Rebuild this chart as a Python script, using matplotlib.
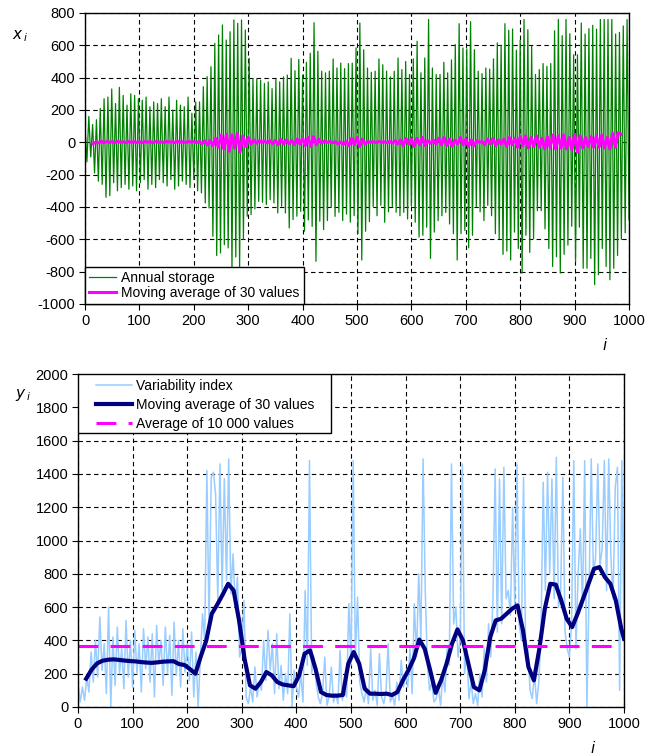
import matplotlib
matplotlib.use("Agg")
import matplotlib.pyplot as plt
from matplotlib.patches import Rectangle
import numpy as np

plt.rcParams['font.family'] = ['Liberation Sans', 'DejaVu Sans']
plt.rcParams['axes.unicode_minus'] = False

# --- top panel: annual storage, peaks and troughs (~every 7 years)
storage_peaks = [
    100, 160, 110, 140, 210, 270, 280, 330, 240, 340,
    290, 230, 300, 290, 270, 260, 280, 220, 250, 240,
    270, 220, 280, 200, 260, 230, 220, 280, 180, 250,
    250, 344, 406, 468, 612, 664, 726, 633, 684, 757,
    736, 757, 695, 520, 395, 391, 384, 364, 374, 332,
    391, 374, 405, 416, 520, 443, 513, 416, 495, 551,
    740, 563, 440, 430, 440, 516, 460, 490, 456, 487,
    490, 584, 738, 573, 460, 433, 440, 516, 480, 440,
    405, 440, 522, 450, 500, 420, 516, 625, 430, 522,
    760, 460, 420, 420, 495, 430, 510, 605, 734, 584,
    578, 746, 573, 440, 425, 460, 453, 516, 615, 600,
    734, 693, 701, 570, 631, 760, 697, 594, 420, 450,
    487, 470, 487, 690, 760, 660, 760, 672, 542, 542,
    738, 670, 703, 724, 700, 760, 760, 760, 760, 670,
    680, 720, 760,
]
storage_troughs = [
    -120, -90, -190, -240, -260, -340, -330, -250, -300, -280,
    -260, -290, -270, -300, -250, -230, -290, -260, -280, -230,
    -250, -270, -230, -290, -270, -240, -260, -280, -230, -300,
    -313, -375, -406, -581, -700, -684, -633, -653, -787, -709,
    -787, -600, -457, -447, -412, -365, -371, -385, -355, -375,
    -437, -395, -437, -530, -478, -457, -427, -550, -480, -520,
    -736, -488, -540, -484, -403, -458, -433, -484, -444, -494,
    -454, -565, -728, -550, -490, -397, -454, -389, -494, -430,
    -397, -433, -454, -433, -474, -393, -494, -586, -575, -525,
    -718, -555, -484, -454, -433, -505, -565, -728, -565, -545,
    -653, -575, -397, -430, -484, -389, -454, -565, -596, -693,
    -673, -728, -555, -657, -809, -575, -681, -596, -423, -423,
    -535, -657, -768, -708, -809, -693, -636, -519, -738, -525,
    -779, -779, -718, -880, -819, -657, -768, -850, -779, -700,
    -600, -560, -480,
]

# moving average of 30 values (top), every 5 years from i=15 to 985
storage_ma = [
    -8, 2, -4, 6, -2, 5, 0, 4, -3, 6, 1, 3, -2, 5, 0, 4, -1,
    3, -2, 5, 1, 4, -3, 6, 0, 3, -1, 5, 2, 4, -2, 6, 1, 3, -1, 5, 2,
    4, -2, 6, -8, 10, -15, 12, -20, 25, -30, 45, -40, 50, -55, 45, -35, 55, -60, 40, -25,
    30, -10, 15, -5, 10, 0, 8, -4, 10, -8, 12, -15, 20, -10, 15, -8, 12, -14, 20, -10,
    25, -20, 30, -25, 35, -15, 20, -5, 8, 0, 5, -3, 4, -10, 2, -12, 5, -20, 25, -15,
    30, -25, 20, -10, 6, 0, 4, -2, 5, 0, 3, -3, 6, -5, 10, -10, 15, -20, 25, -12,
    20, -25, 25, -15, 30, -20, 10, -5, 15, -10, 25, -15, 30, -20, 20, -25, 15, -10, 30, -15,
    20, -25, 15, -20, 10, 0, 5, -15, 20, -10, 25, -20, 15, -10, 20, -25, 30, -15, 25, -30,
    35, -20, 40, -35, 30, -25, 40, -30, 25, -40, 35, -30, 45, -40, 40, -35, 45, -40, 30, -45,
    50, -60, 40, -35, 30, -25, 35, -30, 40, -30, 45, -35, 30, -40, 55, -30, 60, 50,
]

# --- bottom panel: variability index, every 4 years (0..1000)
variability = [
    140, 30, 120, 40, 180, 90, 330, 150, 400, 180, 540, 220, 380, 80, 600, 0, 420, 130, 480, 200, 350, 110, 520, 180, 400,
    120, 460, 200, 380, 90, 470, 230, 420, 150, 440, 60, 490, 260, 400, 130, 480, 200, 430, 70, 510, 190, 400, 120, 470, 210,
    380, 160, 450, 60, 330, 0, 280, 560, 400, 1420, 500, 1380, 1410, 1280, 640, 1460, 700, 1370, 760, 1490, 680, 920, 600, 780, 300,
    350, 640, 60, 20, 120, 30, 240, 60, 150, 100, 400, 160, 460, 220, 380, 80, 440, 110, 250, 40, 200, 80, 560, 0, 220,
    120, 60, 200, 30, 700, 250, 1480, 200, 300, 150, 60, 20, 90, 300, 10, 60, 240, 30, 80, 20, 340, 40, 100, 60, 620,
    250, 1480, 300, 660, 150, 80, 30, 120, 20, 350, 40, 100, 10, 320, 60, 20, 90, 380, 30, 70, 10, 150, 40, 280, 120,
    200, 120, 350, 80, 620, 300, 800, 400, 1490, 700, 250, 100, 150, 30, 50, 120, 10, 200, 90, 350, 250, 1460, 500, 600, 300,
    400, 1460, 200, 350, 50, 150, 20, 80, 10, 200, 60, 350, 150, 500, 300, 650, 1430, 450, 1370, 500, 1440, 650, 700, 550, 1200,
    600, 1460, 500, 400, 1380, 300, 350, 100, 50, 200, 20, 150, 450, 1350, 700, 1410, 800, 1370, 650, 1500, 600, 700, 1380, 450, 350,
    300, 500, 1480, 350, 800, 1070, 600, 1480, 0, 700, 1490, 800, 900, 1460, 850, 950, 1480, 700, 1490, 900, 650, 1320, 1440, 100, 1480,
    450,
]

# moving average of 30 values (bottom), every 10 years from 15 to 995, then 1000
variability_ma = [
    170, 225, 262, 278, 284, 286, 283, 279, 276, 274,
    270, 267, 265, 268, 272, 274, 275, 258, 252, 228,
    200, 305, 400, 560, 615, 675, 740, 700, 520, 290,
    130, 110, 150, 210, 190, 150, 135, 130, 125, 190,
    320, 340, 230, 90, 72, 68, 68, 72, 260, 330,
    260, 110, 80, 80, 78, 80, 72, 90, 160, 220,
    290, 405, 350, 220, 85, 160, 260, 380, 466, 400,
    260, 120, 100, 220, 420, 520, 530, 560, 590, 610,
    460, 240, 160, 350, 590, 740, 735, 640, 530, 480,
    560, 650, 740, 830, 840, 780, 740, 640, 470, 410,
]
variability_mean = 368

# series positions (index i)
storage = np.ravel(np.column_stack([storage_peaks, storage_troughs]))
storage_i = np.linspace(0, 1000, len(storage))
storage_ma_i = np.arange(15, 986, 5)
var_i = np.arange(0, 1001, 4)
var_ma_i = np.append(np.arange(15, 996, 10), 1000)

fig = plt.figure(figsize=(6.46, 7.55), dpi=100)
W, H = 646, 755
ax1 = fig.add_axes([85 / W, 1 - 304 / H, 544 / W, 291 / H])
ax2 = fig.add_axes([78 / W, 1 - 707 / H, 546 / W, 333 / H])

grid_kw = dict(color='black', linestyle=(0, (4, 3)), linewidth=0.8)

for ax in (ax1, ax2):
    ax.set_xlim(0, 1000)
    ax.set_xticks(np.arange(0, 1001, 100))
    ax.grid(True, **grid_kw)
    ax.set_axisbelow(True)
    ax.tick_params(direction='out', length=4, width=0.8, labelsize=10.5, pad=3)
    for s in ax.spines.values():
        s.set_linewidth(1.0)

# top
ax1.plot(storage_i, storage, color='#008000', lw=0.9, label='Annual storage')
ax1.plot(storage_ma_i, storage_ma, color='#FF00FF', lw=2.2, label='Moving average of 30 values')
ax1.set_ylim(-1000, 800)
ax1.set_yticks(np.arange(-1000, 801, 200))
leg1 = ax1.legend(loc='lower left', borderaxespad=0, fontsize=10, handlelength=1.9,
                  labelspacing=0.05, handletextpad=0.4, borderpad=0.3, fancybox=False,
                  framealpha=1, edgecolor='black')
leg1.get_frame().set_linewidth(1.0)
fig.text(12 / W, 1 - 36 / H, r'$x_{\,i}$', fontsize=11, va='center', ha='left')
fig.text(605 / W, 1 - 345 / H, r'$i$', fontsize=11, va='center', ha='center')

# bottom
ax2.plot(var_i, variability, color='#99CCFF', lw=1.1, label='Variability index')
ax2.plot(var_ma_i, variability_ma, color='#000080', lw=3.0, label='Moving average of 30 values')
ax2.plot([0, 1000], [variability_mean, variability_mean], color='#FF00FF', lw=2.2,
         linestyle=(0, (6.5, 4)), label='Average of 10 000 values')
ax2.set_ylim(0, 2000)
ax2.set_yticks(np.arange(0, 2001, 200))

# legend frame drawn separately (wide left padding as in the original)
ax2.add_patch(Rectangle((0, 1 - 59 / 333), 253 / 546, 59 / 333, transform=ax2.transAxes,
                        facecolor='white', edgecolor='black', lw=1.0, zorder=4))
leg2 = ax2.legend(loc='upper left', bbox_to_anchor=(97 / W - 0.004, 1 - 377.5 / H),
                  bbox_transform=fig.transFigure, borderaxespad=0, fontsize=10,
                  handlelength=2.6, labelspacing=0.35, handletextpad=0.3, borderpad=0.1,
                  frameon=False)
leg2.set_zorder(5)
fig.text(15 / W, 1 - 395 / H, r'$y_{\,i}$', fontsize=11, va='center', ha='left')
fig.text(593 / W, 1 - 748 / H, r'$i$', fontsize=11, va='center', ha='center')

fig.savefig('out.png', dpi=100)
